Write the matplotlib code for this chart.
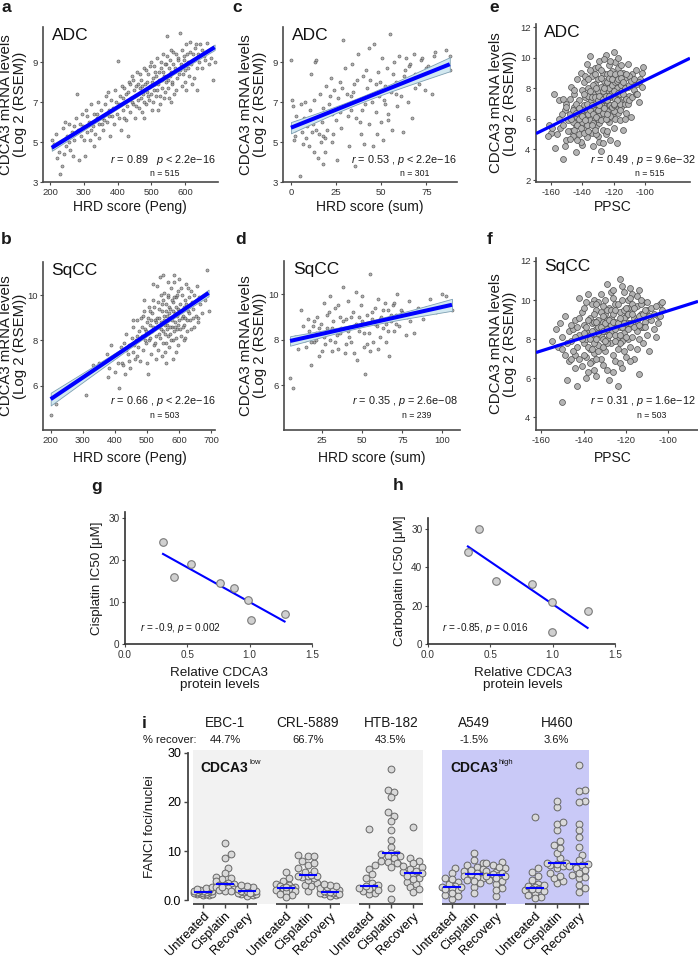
import numpy as np
import matplotlib
matplotlib.use("Agg")
import matplotlib.pyplot as plt
from matplotlib import transforms

plt.rcParams['font.family'] = ['Liberation Sans', 'DejaVu Sans']
plt.rcParams['mathtext.fontset'] = 'custom'
plt.rcParams['mathtext.rm'] = 'Liberation Sans'
plt.rcParams['mathtext.it'] = 'Liberation Sans:italic'
plt.rcParams['mathtext.bf'] = 'Liberation Sans:bold'
plt.rcParams['axes.unicode_minus'] = False

# ---- data (estimated) ----
# a: ADC, HRD score (Peng) vs CDCA3
pts_a = [(205,5.1),(208,4.7),(212,4.9),(218,5.4),(222,4.2),(226,4.5),(230,3.4),(234,3.8),(238,5.7),(243,6.0),
         (247,4.8),(251,5.3),(256,5.9),(260,4.6),(264,5.5),(268,4.3),(272,5.1),(276,6.2),(280,7.4),(283,5.6),
         (287,4.1),(291,5.3),(295,6.4),(299,5.8),(303,4.3),(306,6.6),(310,5.5),(314,6.0),(318,5.1),(322,6.9),
         (326,5.8),(330,6.4),(334,5.4),(338,6.2),(342,7.0),(346,5.9),(350,6.6),(354,6.2),(358,5.6),(362,6.9),
         (366,7.3),(370,6.0),(374,6.6),(378,5.3),(382,7.1),(386,6.7),(390,5.9),(394,7.6),(398,6.4),(401,9.05),
         (404,6.9),(407,7.3),(410,5.6),(413,7.8),(416,6.6),(419,6.2),(422,7.0),(425,7.4),(428,6.8),(431,5.3),
         (434,8.0),(437,6.5),(440,7.2),(443,8.3),(446,6.9),(449,7.6),(452,6.2),(455,7.8),(458,8.5),(461,7.1),
         (464,6.7),(467,7.7),(470,8.1),(473,6.5),(476,7.4),(479,8.7),(482,7.9),(485,6.9),(488,7.5),(491,8.4),
         (494,7.1),(497,7.8),(500,9.0),(503,6.6),(506,8.2),(509,7.6),(512,8.5),(515,7.3),(518,9.2),(521,7.9),
         (524,8.1),(527,6.9),(530,8.7),(533,7.7),(536,9.4),(539,8.3),(542,7.5),(545,8.9),(548,10.3),(551,8.1),
         (554,7.2),(557,9.1),(560,8.5),(563,7.9),(566,9.5),(570,8.7),(574,7.6),(578,9.2),(582,8.4),(585,10.45),
         (588,8.9),(592,7.8),(596,9.3),(600,8.6),(604,9.9),(608,9.0),(612,8.3),(616,9.5),(620,7.9),(625,9.1),
         (630,9.7),(635,8.7),(640,9.4),(645,9.9),(650,8.7),(655,9.3),(660,9.1),(665,9.95),(670,8.9),(676,9.2),
         (683,8.1),(688,9.0),(635,7.6),(600,8.0),(560,7.0),(520,6.6),(480,6.2),
         (385,6.3),(395,7.0),(405,6.2),(415,7.2),(420,7.7),(426,6.1),(432,7.5),(438,7.9),(444,7.0),(447,8.1),
         (453,7.3),(456,6.8),(462,7.9),(466,8.4),(471,7.2),(474,7.8),(478,7.0),(483,8.6),(487,8.0),(490,7.3),
         (495,8.8),(498,7.4),(502,8.0),(505,7.0),(508,8.8),(511,7.9),(514,8.3),(517,7.6),(522,8.5),(525,7.3),
         (528,9.0),(531,8.1),(534,8.5),(537,7.2),(540,8.9),(543,8.0),(546,9.3),(549,7.7),(552,8.7),(555,8.3),
         (558,9.6),(562,8.0),(565,8.9),(568,7.4),(572,9.4),(576,8.2),(580,9.1),(584,8.6),(590,9.6),(594,8.4),
         (598,9.1),(602,7.6),(606,9.4),(610,8.7),(614,10.0),(618,8.9),(623,9.4),(628,8.2),(633,9.9),(643,9.0),
         (652,9.6),(300,5.1),(320,5.6),(340,6.4),(355,5.9),(365,6.4),(372,7.5),(345,5.2),(330,4.8),(310,6.3),
         (290,5.9),(270,5.8),(255,5.0),(240,4.4),(360,6.1),(376,6.3)]

# b: SqCC, HRD score (Peng) vs CDCA3
pts_b = [(200,4.7),(215,5.2),(245,5.8),(260,6.0),(310,5.6),(318,6.6),(332,6.9),(350,7.0),(362,6.9),(375,7.4),
         (378,6.4),(382,6.8),(388,7.8),(392,7.2),(400,6.6),(405,7.3),(412,5.9),(418,7.7),(422,7.0),(428,7.9),
         (432,6.5),(436,8.3),(440,7.4),(444,7.8),(448,6.8),(452,8.1),(455,7.5),(458,8.6),(462,7.2),(466,8.0),
         (470,8.9),(473,7.7),(476,8.4),(479,7.1),(482,9.0),(485,8.2),(488,7.6),(491,9.3),(494,8.5),(497,7.9),
         (500,8.8),(502,6.5),(505,9.5),(507,8.0),(510,8.7),(512,7.4),(515,9.2),(517,8.4),(520,9.8),(522,7.8),
         (525,8.9),(527,8.2),(530,10.4),(532,9.0),(534,7.6),(536,8.6),(538,9.4),(540,8.1),(542,10.8),(544,8.8),
         (546,7.3),(548,9.6),(550,8.4),(552,9.1),(554,10.1),(556,8.7),(558,7.9),(560,9.3),(562,8.5),(564,9.9),
         (566,8.9),(568,7.7),(570,9.5),(572,8.3),(574,10.3),(576,9.0),(578,8.6),(580,9.7),(582,8.0),(584,10.6),
         (586,9.2),(588,8.8),(590,7.5),(592,9.9),(594,8.5),(596,9.4),(598,10.2),(600,8.9),(603,9.6),(606,8.2),
         (609,10.0),(612,9.1),(615,8.7),(618,9.8),(621,10.5),(624,8.4),(627,9.3),(630,9.9),(634,8.9),(638,10.2),
         (642,9.4),(646,8.6),(650,9.7),(655,10.4),(660,9.0),(665,9.6),(672,9.2),(680,9.8),(688,11.1),(692,9.3),
         (550,10.9),(600,10.7),(520,10.5),(490,9.8),(560,7.0),(580,7.2),(470,7.3),(500,7.0),
         (484,8.6),(489,9.1),(493,8.0),(498,8.4),(503,9.0),(508,9.3),(511,8.1),(514,8.9),(519,8.6),(523,9.5),
         (526,7.9),(529,8.8),(533,9.7),(537,8.3),(539,9.0),(543,8.5),(547,9.3),(549,7.9),(551,9.8),(553,8.9),
         (557,8.3),(559,9.6),(561,8.7),(563,9.1),(565,8.2),(567,10.0),(569,9.2),(571,8.6),(573,9.4),(575,8.0),
         (577,9.8),(579,8.9),(581,9.3),(583,8.4),(585,9.9),(587,8.6),(589,9.5),(591,8.1),(593,9.1),(595,10.0),
         (597,8.7),(599,9.3),(602,8.5),(605,10.3),(608,9.0),(611,8.6),(614,9.5),(617,9.0),(620,8.1),(623,9.6),
         (626,8.9),(629,10.3),(632,9.2),(636,8.5),(640,9.7),(644,9.0),(648,10.0),(652,9.1),(658,8.8),(663,9.9),
         (528,7.2),(556,7.5),(596,7.8),(615,8.0),(545,10.0),(565,10.6),(585,10.9),(470,8.2),(460,7.8),(455,8.9),
         (445,7.1),(435,7.6),(425,6.9),(410,7.0)]

# c: ADC, HRD score (sum) vs CDCA3
pts_c = [(0,9.1),(0.5,7.1),(1,6.8),(1.5,5.1),(2,5.3),(3,6.3),(3.5,6.0),(4,5.7),(5,3.3),(5.5,6.9),
         (6,5.5),(7,6.2),(8,7.0),(8.5,5.2),(9,5.8),(10,4.8),(10.5,6.6),(11,8.4),(12,5.9),(12.5,4.5),
         (13,7.1),(13.5,9.0),(14,9.1),(14.5,6.3),(15,4.2),(15.5,5.4),(16,7.4),(17,6.0),(17.5,3.9),(18,6.7),
         (19,4.5),(19.5,7.8),(20,5.6),(21,6.9),(22,8.2),(22.5,5.0),(23,6.4),(24,7.6),(25,6.1),(25.5,4.1),
         (26,7.2),(27,8.0),(28,5.7),(29,10.1),(29.5,6.8),(30,8.7),(31,7.4),(32,4.8),(33,6.6),(34,8.9),
         (35,7.9),(35.5,3.8),(36,6.2),(37,9.4),(38,7.1),(39,5.4),(40,8.3),(40.5,4.9),(41,6.9),(42,7.7),
         (43,9.7),(43.5,5.9),(44,8.1),(45,7.0),(45.5,4.8),(46,9.9),(47,6.5),(48,8.5),(49,7.3),(50,6.0),
         (50.5,9.2),(51,5.1),(52,7.8),(53,8.7),(54,6.4),(55,10.4),(55.5,7.5),(56,5.6),(57,9.0),(58,8.0),
         (59,6.8),(60,9.3),(61,7.3),(62,5.5),(63,8.6),(64,9.2),(65,7.0),(66,8.9),(67,6.2),(68,9.4),
         (69,7.7),(70,8.3),(71,7.9),(72,9.1),(74,7.6),(76,8.8),(78,7.4),(80,9.5),(83,8.8),(85,9.0),
         (88,8.6),(88,9.3),(10,6.1),(18,5.3),(27,6.5),(33,7.3),(38,6.0),(47,7.9),(52,6.9),(58,7.4),
         (2.5,5.6),(6.5,4.9),(9.5,6.0),(11.5,5.5),(14,5.6),(16.5,5.0),(19,5.2),(21.5,7.3),(23.5,5.4),(26.5,6.7),
         (28.5,7.7),(31.5,6.3),(34.5,7.5),(36.5,8.1),(39.5,6.6),(41.5,8.6),(44.5,7.3),(47.5,5.4),(49.5,8.0),(51.5,7.1),
         (53.5,6.1),(56.5,8.4),(60.5,7.9),(62.5,8.3),(65.5,8.8),(68.5,8.4),(72.5,9.2),(75,8.7),(79,9.3),(86,9.6)]

# d: SqCC, HRD score (sum) vs CDCA3
pts_d = [(5,6.3),(7,5.9),(8,8.1),(10,7.6),(12,9.3),(14,8.0),(15,7.7),(17,8.4),(18,6.9),(19,8.6),
         (20,7.9),(21,8.3),(22,9.0),(23,7.3),(24,8.7),(25,8.2),(26,9.6),(27,7.8),(28,8.5),(29,9.2),
         (30,8.0),(31,7.5),(32,8.8),(33,9.4),(34,8.2),(35,7.6),(36,9.0),(37,8.5),(38,10.3),(39,7.4),
         (40,8.9),(41,9.7),(42,8.1),(43,7.9),(44,9.2),(45,8.6),(46,10.1),(47,7.1),(48,8.4),(49,9.5),
         (50,8.8),(51,7.7),(52,6.5),(53,9.1),(54,8.3),(55,10.9),(56,8.9),(57,7.9),(58,9.4),(59,8.6),
         (60,9.8),(61,8.1),(62,9.0),(63,8.5),(64,9.6),(65,7.9),(66,9.3),(67,7.3),(68,8.8),(69,9.5),
         (70,8.4),(71,9.1),(72,10.0),(73,8.6),(75,9.2),(77,8.2),(79,9.7),(80,8.8),(82,8.3),(85,9.4),
         (88,8.9),(92,9.8),(96,9.2),(100,10.0),(106,9.3),(30,9.9),(35,9.5),(45,7.4),(50,9.9),(55,7.5),
         (60,7.6),(40,7.8),(25,7.5),(20,8.8),(65,8.7),(70,9.6),
         (13,8.6),(16,8.9),(18,7.9),(21,8.0),(23,8.5),(26,8.1),(28,9.1),(31,8.5),(33,7.9),(36,8.3),
         (38,8.8),(41,8.4),(43,9.0),(46,8.7),(48,9.0),(51,8.3),(53,7.8),(56,9.2),(58,8.7),(61,8.9),
         (63,9.3),(66,8.4),(68,9.1),(71,8.7),(74,9.3),(78,9.0),(83,9.1),(90,9.4),(94,9.4),(102,9.9)]

# e: ADC, PPSC vs CDCA3
pts_e = [(-161,5.6),(-160,5.1),(-158,7.6),(-157,4.1),(-155,6.0),(-154,5.4),(-152,3.4),(-151,6.6),(-150,4.6),(-150,7.0),
         (-149,5.9),(-148,6.3),(-147,8.1),(-147,5.2),(-146,4.9),(-145,6.8),(-145,7.6),(-144,5.6),(-144,3.8),(-143,6.1),
         (-143,8.6),(-142,7.2),(-142,5.0),(-141,6.5),(-141,9.0),(-140,5.8),(-140,7.9),(-140,4.3),(-139,6.9),(-139,8.4),
         (-138,5.4),(-138,7.4),(-138,6.2),(-137,9.6),(-137,4.8),(-136,6.7),(-136,8.0),(-135,5.9),(-135,7.1),(-135,10.1),
         (-134,6.4),(-134,8.8),(-134,5.1),(-133,7.6),(-133,4.2),(-132,6.0),(-132,8.3),(-132,9.3),(-131,5.5),(-131,7.0),
         (-131,6.6),(-130,8.6),(-130,4.9),(-130,7.8),(-129,6.2),(-129,9.8),(-129,5.7),(-128,7.3),(-128,8.1),(-128,3.9),
         (-127,6.8),(-127,9.0),(-127,5.3),(-126,7.6),(-126,6.1),(-126,8.5),(-125,10.2),(-125,7.0),(-125,5.0),(-124,6.5),
         (-124,8.9),(-124,7.9),(-123,5.8),(-123,9.5),(-123,6.9),(-122,7.4),(-122,4.6),(-122,8.2),(-121,6.3),(-121,9.1),
         (-121,7.7),(-120,5.4),(-120,8.6),(-120,10.4),(-119,7.0),(-119,6.0),(-119,9.7),(-118,8.0),(-118,6.7),(-118,4.4),
         (-117,7.3),(-117,9.3),(-116,5.9),(-116,8.4),(-115,6.8),(-115,7.8),(-114,9.0),(-114,5.3),(-113,7.2),(-113,8.7),
         (-112,6.4),(-111,8.1),(-111,9.6),(-110,7.5),(-109,6.1),(-108,8.9),(-107,7.9),(-106,9.2),(-105,8.3),(-104,7.1),
         (-103,8.6),(-102,9.0),(-136,7.5),(-133,6.8),(-130,6.0),(-128,7.0),(-126,7.2),(-124,6.0),(-122,6.2),(-140,6.6),
         (-138,8.8),(-134,7.4),(-132,7.0),(-127,7.8),(-125,8.2),(-123,8.0),(-121,8.2),(-119,8.4),(-117,6.4),(-115,9.5),
         (-142,6.0),(-144,7.0),(-146,5.8),(-148,7.3),(-137,5.6),(-131,5.0),(-129,4.5),(-124,5.2),(-120,6.5),(-118,7.5),
         (-116,7.0),(-113,6.0),(-110,8.8),(-135,9.2),(-130,9.4),(-126,9.9),(-122,9.8),(-117,10.0),(-141,4.5),(-133,5.7),
         (-127,4.4),
         (-162,4.9),(-159,5.4),(-156,5.0),(-153,6.3),(-152,5.6),(-151,4.2),(-149,5.2),(-148,4.7),(-147,6.0),(-146,6.6),
         (-145,5.3),(-144,6.4),(-143,4.6),(-143,5.6),(-142,6.7),(-141,5.4),(-140,6.2),(-139,5.1),(-139,7.6),(-138,5.9),
         (-137,6.6),(-137,7.0),(-136,5.2),(-136,6.3),(-135,6.6),(-135,7.8),(-134,5.6),(-134,6.9),(-133,6.3),(-133,8.2),
         (-132,5.3),(-132,7.4),(-131,6.1),(-131,8.0),(-130,6.6),(-130,7.2),(-129,6.9),(-129,7.5),(-128,5.9),(-128,8.7),
         (-127,6.4),(-127,7.3),(-126,6.7),(-126,8.0),(-125,6.0),(-125,7.5),(-124,7.2),(-124,8.4),(-123,7.5),(-123,8.7),
         (-122,6.9),(-122,9.0),(-121,6.8),(-121,8.6),(-120,7.8),(-120,6.9),(-119,7.3),(-119,8.9),(-118,8.5),(-118,7.2),
         (-117,7.7),(-117,8.6),(-116,7.6),(-116,9.0),(-115,8.2),(-115,8.7),(-114,7.6),(-114,8.4),(-113,8.0),(-113,7.0),
         (-112,7.3),(-112,8.9),(-111,7.0),(-110,8.2),(-110,7.2),(-109,8.5),(-108,7.4),(-107,8.6),(-106,7.6),(-105,7.6),
         (-104,8.4),(-102,8.1),(-101,9.4),(-136,8.6),(-132,8.9),(-128,9.2),(-124,6.3),(-120,7.0),(-116,6.6),
         (-155,7.2),(-150,6.8),(-145,7.9),(-152,7.3)]

# f: SqCC, PPSC vs CDCA3
pts_f = [(-153,8.5),(-151,8.8),(-150,4.8),(-149,9.2),(-148,5.9),(-147,8.4),(-146,7.9),(-145,8.5),(-144,9.0),(-143,5.6),
         (-143,7.6),(-142,10.1),(-142,8.2),(-141,6.6),(-141,9.4),(-140,7.8),(-140,8.7),(-139,7.1),(-139,9.9),(-138,8.3),
         (-138,6.3),(-137,9.1),(-137,7.5),(-136,8.8),(-136,6.9),(-135,10.0),(-135,8.0),(-135,7.3),(-134,9.5),(-134,8.5),
         (-134,6.1),(-133,7.7),(-133,9.0),(-132,8.2),(-132,10.3),(-132,7.0),(-131,8.9),(-131,6.7),(-131,9.7),(-130,8.4),
         (-130,7.4),(-130,9.3),(-129,8.0),(-129,10.8),(-129,6.4),(-128,8.7),(-128,5.9),(-128,9.6),(-127,7.8),(-127,9.1),
         (-126,8.5),(-126,10.1),(-126,7.2),(-125,8.9),(-125,6.9),(-125,9.8),(-124,8.1),(-124,7.5),(-123,9.4),(-123,8.6),
         (-123,11.1),(-122,7.9),(-122,9.0),(-121,8.3),(-121,10.4),(-120,7.1),(-120,9.2),(-120,8.7),(-119,10.0),(-119,8.0),
         (-118,9.5),(-118,7.6),(-117,8.8),(-117,10.3),(-116,7.0),(-116,9.1),(-115,8.4),(-115,9.7),(-114,8.0),(-114,6.2),
         (-113,9.3),(-113,8.6),(-112,7.8),(-112,9.9),(-111,8.9),(-110,8.2),(-110,9.5),(-109,7.4),(-108,9.0),(-107,8.5),
         (-106,8.1),(-105,9.2),(-104,9.8),(-103,9.5),(-133,8.6),(-131,8.0),(-129,9.0),(-127,8.4),(-125,8.2),(-123,7.8),
         (-121,9.1),(-119,8.8),(-137,8.2),(-135,8.9),(-133,9.9),(-131,7.6),(-129,7.8),(-127,10.4),(-125,7.9),(-123,6.8),
         (-121,7.4),(-119,9.6),(-117,8.1),(-115,7.5),(-140,9.6),(-138,10.3),(-136,9.8),(-134,7.0),(-139,8.0),(-144,7.2),
         (-126,6.3),(-124,5.6),(-122,6.5),(-118,6.9),(-112,8.6),
         (-155,7.9),(-152,7.6),(-150,8.1),(-149,7.2),(-148,7.8),(-147,6.9),(-146,8.7),(-145,7.4),(-144,8.1),(-143,8.6),
         (-142,7.0),(-141,8.0),(-140,7.2),(-140,8.3),(-139,8.6),(-138,7.6),(-138,9.0),(-137,8.0),(-137,6.8),(-136,7.5),
         (-136,8.4),(-135,7.8),(-135,9.3),(-134,8.0),(-134,8.9),(-133,7.4),(-133,8.3),(-132,8.6),(-132,9.4),(-131,8.4),
         (-131,9.2),(-130,7.9),(-130,8.8),(-129,8.5),(-129,9.5),(-128,8.2),(-128,9.0),(-127,8.7),(-127,9.5),(-126,8.9),
         (-126,9.3),(-125,8.5),(-125,9.5),(-124,8.8),(-124,9.8),(-123,9.1),(-123,8.2),(-122,8.6),(-122,10.0),(-121,8.8),
         (-121,9.5),(-120,9.6),(-120,8.1),(-119,9.3),(-119,8.5),(-118,8.8),(-118,10.1),(-117,9.3),(-117,9.8),(-116,8.6),
         (-116,9.6),(-115,9.0),(-115,10.2),(-114,9.2),(-114,8.7),(-113,9.8),(-113,10.0),(-112,9.3),(-111,9.5),(-111,8.6),
         (-110,9.9),(-109,9.2),(-108,9.6),(-107,9.3),(-106,9.7),(-105,8.8),(-104,9.2),(-103,9.9),(-134,9.8),(-130,10.0),
         (-126,10.5),(-122,10.7),(-118,10.6),(-114,10.5),(-142,9.1),(-146,7.0),(-150,7.5),(-144,6.5),(-139,6.0),(-135,6.4)]

# g / h: relative CDCA3 protein vs IC50
g_x = [0.305, 0.39, 0.53, 0.76, 0.875, 0.99, 1.01, 1.28]
g_y = [24.3, 16.0, 19.0, 14.5, 13.3, 10.5, 5.7, 7.1]
h_x = [0.32, 0.41, 0.545, 0.835, 0.995, 0.995, 1.28]
h_y = [47.8, 59.7, 32.7, 31.2, 21.8, 6.2, 17.1]
h_tick_labels = ['0', '20', '40', '30']

# i: FANCI foci per nucleus
cell_lines = ['EBC-1', 'CRL-5889', 'HTB-182', 'A549', 'H460']
recover_pct = ['44.7%', '66.7%', '43.5%', '-1.5%', '3.6%']
conditions = ['Untreated', 'Cisplatin', 'Recovery']
foci = {
    'EBC-1': [[1.0,1.1,1.2,1.3,1.3,1.4,1.5,1.5,1.6,1.6,1.7,1.8,1.8,1.9,2.0,2.1,2.3,2.5,2.6],
              [11.7,9.4,8.6,6.6,5.5,4.8,4.5,4.2,3.8,3.5,3.3,3.1,3.0,2.8,2.6,2.5,2.2,2.0,1.8,1.9,2.7],
              [0.8,1.0,1.2,1.3,1.5,1.6,1.7,1.8,1.8,1.9,2.0,2.2,2.4,2.6,2.8,3.0,1.4]],
    'CRL-5889': [[5.7,4.5,3.8,3.3,3.0,2.8,2.6,2.5,2.5,2.3,2.1,1.9,1.6,1.3,1.0,0.6,2.7],
                 [1.8,2.8,3.0,3.5,4.0,4.5,4.8,4.9,5.0,5.0,5.2,5.7,6.0,6.6,7.2,7.6,8.0,8.9,9.0,9.1],
                 [0.8,1.0,1.2,1.4,1.5,1.6,1.7,1.7,1.8,2.0,2.2,2.4,2.6,2.8,3.0,3.2,1.3]],
    'HTB-182': [[14.5,7.2,6.3,5.3,4.4,3.5,2.7,1.8,1.2,2.2,3.0,2.5,1.5,2.0,2.8],
                [26.7,22.5,22.0,21.0,17.9,17.2,16.2,14.3,12.3,10.8,9.4,9.6,9.3,9.0,8.9,8.6,8.0,7.8,7.5,6.8,2.4,0.2],
                [14.9,8.5,8.0,7.5,6.8,6.3,5.3,4.6,3.7,2.7,1.7,5.8,4.9,3.2,5.5,7.0,2.2,6.0,4.2]],
    'A549': [[6.5,5.5,4.6,3.7,2.9,2.0,1.0,0.3,2.7,2.5,3.2,1.5,4.2,2.2,0.8,2.7],
             [9.7,8.2,7.5,6.8,6.0,5.3,4.4,3.5,2.7,1.5,5.0,5.6,6.4,4.8,3.9,7.1,5.3,6.2,4.1],
             [7.8,7.2,6.5,5.8,5.1,4.1,3.3,2.4,0.8,5.3,6.0,4.6,6.8,5.5,3.8,2.0,7.5,5.0,4.9]],
    'H460': [[17.0,6.5,5.8,4.9,4.1,3.3,2.6,2.0,1.4,0.7,2.4,2.2,1.8,3.0,1.1,2.8,0.4,2.3],
             [3.4,3.9,4.4,5.0,5.5,6.5,6.9,7.2,7.4,7.5,7.6,8.5,9.5,10.6,11.2,12.0,14.3,15.5,16.0,18.9,20.1],
             [27.6,22.4,22.2,20.1,19.9,15.5,14.3,12.8,10.8,9.2,8.2,7.2,6.1,5.1,4.4,3.1,1.7,7.3,6.6,5.6,7.0,2.5,4.8]],
}

# ---- figure ----
W, H = 698, 959
fig = plt.figure(figsize=(W / 100, H / 100), dpi=100)
BLUE = '#0000ff'
AX = '#4a4a4a'


def box(x0, y0, x1, y1):
    return fig.add_axes([x0 / W, 1 - y1 / H, (x1 - x0) / W, (y1 - y0) / H])


def put(x, y, s, **kw):
    kw.setdefault('ha', 'center')
    kw.setdefault('va', 'center')
    kw.setdefault('color', '#1a1a1a')
    fig.text(x / W, 1 - y / H, s, **kw)


def style(ax, fs=7):
    for s in ['top', 'right']:
        ax.spines[s].set_visible(False)
    for s in ['left', 'bottom']:
        ax.spines[s].set_color(AX)
        ax.spines[s].set_linewidth(1.2)
    ax.tick_params(length=2.5, width=0.8, color=AX, labelsize=fs, labelcolor='#333333', pad=1.5)
    ax.patch.set_alpha(0)


def corr_panel(rect, pts, xlim, ylim, xticks, yticks, name, nref, lw, big=False, band=True, full=False):
    ax = box(*rect)
    x, y = np.array(pts, dtype=float).T
    if big:
        ax.scatter(x, y, s=18, c='#b3b3b3', edgecolors='#4d4d4d', linewidths=0.5, zorder=2)
    else:
        ax.scatter(x, y, s=5, c='#9a9a9a', edgecolors='#333333', linewidths=0.4, alpha=0.75, zorder=2)
    xs = np.linspace(*(xlim if full else (x.min(), x.max())), 100)
    b, a = np.polyfit(x, y, 1)
    yhat = a + b * xs
    if band:
        s = np.sqrt(np.sum((y - a - b * x) ** 2) / (len(x) - 2))
        se = s * np.sqrt(1 / nref + (xs - x.mean()) ** 2 / (nref * x.var()))
        ax.fill_between(xs, yhat - 1.97 * se, yhat + 1.97 * se, facecolor='#d2e8f0',
                        edgecolor='#7d9fb2', lw=0.6, zorder=3)
    ax.plot(xs, yhat, color=BLUE, lw=lw, zorder=4, solid_capstyle='butt')
    ax.set_xlim(xlim)
    ax.set_ylim(ylim)
    ax.set_xticks(xticks)
    ax.set_yticks(yticks)
    ax.text(0.05, 0.995, name, transform=ax.transAxes, fontsize=12.5, va='top', ha='left', color='#111111')
    style(ax, 6.8)
    return ax


ylab = 'CDCA3 mRNA levels\n(Log 2 (RSEM))'
top_row = [
    ((43, 27, 218, 182), pts_a, (179, 698), (3, 10.75), [200, 300, 400, 500, 600], [3, 5, 7, 9], 'ADC', 515,
     'HRD score (Peng)', r'$r$ = 0.89   $p$ < 2.2e−16', 'a', 13, 130, 216, 165, False, True, False, 2.9),
    ((283, 27, 457, 182), pts_c, (-4.4, 92), (3, 10.75), [0, 25, 50, 75], [3, 5, 7, 9], 'ADC', 301,
     'HRD score (sum)', r'$r$ = 0.53 , $p$ < 2.2e−16', 'c', 253, 370, 457, 415, False, True, False, 2.9),
    ((536, 24, 690, 182), pts_e, (-169.4, -71.4), (1.87, 12.2), [-160, -140, -120, -100], [2, 4, 6, 8, 10, 12],
     'ADC', 515, 'PPSC', r'$r$ = 0.49 , $p$ = 9.6e−32', 'e', 503, 613, 696, 650, True, False, True, 2.3),
]
bot_row = [
    ((43, 262, 215, 430), pts_b, (176, 712), (4.04, 11.47), [200, 300, 400, 500, 600, 700], [6, 8, 10], 'SqCC', 503,
     'HRD score (Peng)', r'$r$ = 0.66 , $p$ < 2.2e−16', 'b', 13, 130, 216, 165, False, True, False, 2.9),
    ((284, 261, 460, 430), pts_d, (1.2, 111), (4.04, 11.45), [25, 50, 75, 100], [6, 8, 10], 'SqCC', 239,
     'HRD score (sum)', r'$r$ = 0.35 , $p$ = 2.6e−08', 'd', 253, 372, 458, 417, False, True, False, 2.9),
    ((536, 258, 698, 430), pts_f, (-162.5, -86), (3.35, 12.15), [-160, -140, -120, -100], [4, 6, 8, 10, 12],
     'SqCC', 503, 'PPSC', r'$r$ = 0.31 , $p$ = 1.6e−12', 'f', 503, 613, 696, 652, True, False, True, 2.3),
]
tag_x = {'a': 6, 'c': 237, 'e': 494, 'b': 6, 'd': 241, 'f': 490}

# (stat y, n y, xlabel y, panel letter y)
for row, yv in [(top_row, (160, 173, 207, 7)), (bot_row, (401, 415, 458, 240))]:
    for (rect, pts, xl, yl, xt, yt, name, nref, xlab, stat, tag, ylx, xlx, xstat, xn, big, band, full, lw) in row:
        corr_panel(rect, pts, xl, yl, xt, yt, name, nref, lw, big, band, full)
        cy = (rect[1] + rect[3]) / 2
        put(ylx, cy, ylab, rotation=90, fontsize=10.8, linespacing=0.98)
        put(xlx, yv[2], xlab, fontsize=10)
        put(xstat, yv[0], stat, ha='right', fontsize=7.8)
        put(xn, yv[1], 'n = %d' % nref, fontsize=6.3)
        put(tag_x[tag], yv[3], tag, fontsize=12.5, fontweight='bold')

# ---- g and h ----
for rect, xs_, ys_, ylim_, yt, ytl, ylabel, stat, tag, taxy, ylx, sx in [
        ((125, 512, 312, 644), g_x, g_y, (0, 31.4), [0, 10, 20, 30], ['0', '10', '20', '30'],
         'Cisplatin IC50 [μM]', r'$r$ = -0.9, $p$ = 0.002', 'g', (97, 486), 97, 140),
        ((428, 518, 615, 644), h_x, h_y, (0, 65.5), [0, 20, 40, 60], h_tick_labels,
         'Carboplatin IC50 [μM]', r'$r$ = -0.85, $p$ = 0.016', 'h', (398, 485), 400, 442)]:
    ax = box(*rect)
    x = np.array(xs_)
    y = np.array(ys_)
    ax.scatter(x, y, s=30, c='#d0d0d0', edgecolors='#7a7a7a', linewidths=0.8, zorder=3)
    b, a = np.polyfit(x, y, 1)
    xx = np.array([x.min(), x.max()])
    ax.plot(xx, a + b * xx, color=BLUE, lw=1.5, zorder=2)
    ax.set_xlim(0, 1.5)
    ax.set_ylim(*ylim_)
    ax.set_xticks([0, 0.5, 1.0, 1.5])
    ax.set_xticklabels(['0.0', '0.5', '1.0', '1.5'])
    ax.set_yticks(yt)
    ax.set_yticklabels(ytl)
    style(ax, 7.2)
    ax.spines['left'].set_color('#333333')
    ax.spines['bottom'].set_color('#333333')
    cx = (rect[0] + rect[2]) / 2 + 1
    put(ylx, (rect[1] + rect[3]) / 2, ylabel, rotation=90, fontsize=9.6)
    put(cx, 679, 'Relative CDCA3\nprotein levels', fontsize=9.7, linespacing=1.05)
    put(sx, 628, stat, ha='left', fontsize=7.2)
    put(taxy[0], taxy[1], tag, fontsize=12.5, fontweight='bold')

# ---- i ----
GAP = 3.77
PXX, PXY = 22.0, 4.904


def swarm(vals, center, d=7.0):
    vals = np.asarray(vals, dtype=float)
    order = np.argsort(vals)
    xs = np.zeros(len(vals))
    placed = []
    for idx in order:
        v = vals[idx]
        best, best_d = 0.0, -1.0
        for k in [0, 1, -1, 2, -2, 3, -3]:
            off = k * d * 0.45
            dmin = min([np.hypot(off - po, (v - pv) * PXY) for po, pv in placed] or [99.0])
            if dmin >= d * 0.8:
                best = off
                break
            if dmin > best_d:
                best, best_d = off, dmin
        placed.append((best, v))
        xs[idx] = center + best / PXX
    return xs


ax = box(188, 750, 600, 904)
ax.set_xlim(-0.68, 18.05)
ax.set_ylim(-0.8, 30.6)
ax.axvspan(-0.45, 2 * GAP + 2.45, color='#f2f2f2', zorder=0, lw=0)
ax.axvspan(3 * GAP - 0.45, 4 * GAP + 2.45, color='#c9c9f7', zorder=0, lw=0)
tr = transforms.blended_transform_factory(ax.transData, fig.transFigure)
ticks, tlabels = [], []
for gi, line in enumerate(cell_lines):
    base = gi * GAP
    meds = []
    for k, vals in enumerate(foci[line]):
        xs = swarm(vals, base + k)
        ax.scatter(xs, vals, s=24, c='#d9d9d9', edgecolors='#666666', linewidths=0.7, zorder=3)
        m = np.median(vals)
        meds.append(m)
        ax.plot([base + k - 0.36, base + k + 0.36], [m, m], color=BLUE, lw=1.5, zorder=5)
        ticks.append(base + k)
        tlabels.append(conditions[k])
    ax.plot([base + 1, base + 2], meds[1:], color='#8c8c8c', lw=0.9, zorder=2)
    ax.plot([base - 0.45, base + 2.45], [-0.8, -0.8], color='#444444', lw=1.3, clip_on=False,
            solid_capstyle='butt', zorder=6)
    ax.text(base + 1, 1 - 723 / H, line, transform=tr, ha='center', va='center', fontsize=9.8, color='#1a1a1a')
    ax.text(base + 1, 1 - 740 / H, recover_pct[gi], transform=tr, ha='center', va='center', fontsize=8,
            color='#1a1a1a')

for s in ['top', 'right', 'bottom']:
    ax.spines[s].set_visible(False)
ax.spines['left'].set_bounds(0, 30)
ax.spines['left'].set_color('#444444')
ax.spines['left'].set_linewidth(1.3)
ax.set_yticks([0, 10, 20, 30])
ax.set_yticklabels(['0.0', '10', '20', '30'])
ax.set_xticks(ticks)
ax.set_xticklabels(tlabels, rotation=45, ha='right', rotation_mode='anchor')
ax.tick_params(axis='y', length=3, width=1, color='#444444', labelsize=9, pad=2)
ax.tick_params(axis='x', length=3, width=1, color='#444444', labelsize=9.2, pad=1.5)
ax.patch.set_alpha(0)
for x0, sup in [(-0.1, 'low'), (11.23, 'high')]:
    ax.text(x0, 27.0, 'CDCA3', fontsize=10, fontweight='bold', ha='left', va='center', color='#111111')
    ax.text(x0 + 2.2, 28.1, sup, fontsize=5.5, ha='left', va='center', color='#111111')

put(150, 827, 'FANCI foci/nuclei', rotation=90, fontsize=9.6)
put(170, 740, '% recover:', fontsize=8)
put(144, 724, 'i', fontsize=12.5, fontweight='bold')

fig.savefig('out.png', dpi=100)
